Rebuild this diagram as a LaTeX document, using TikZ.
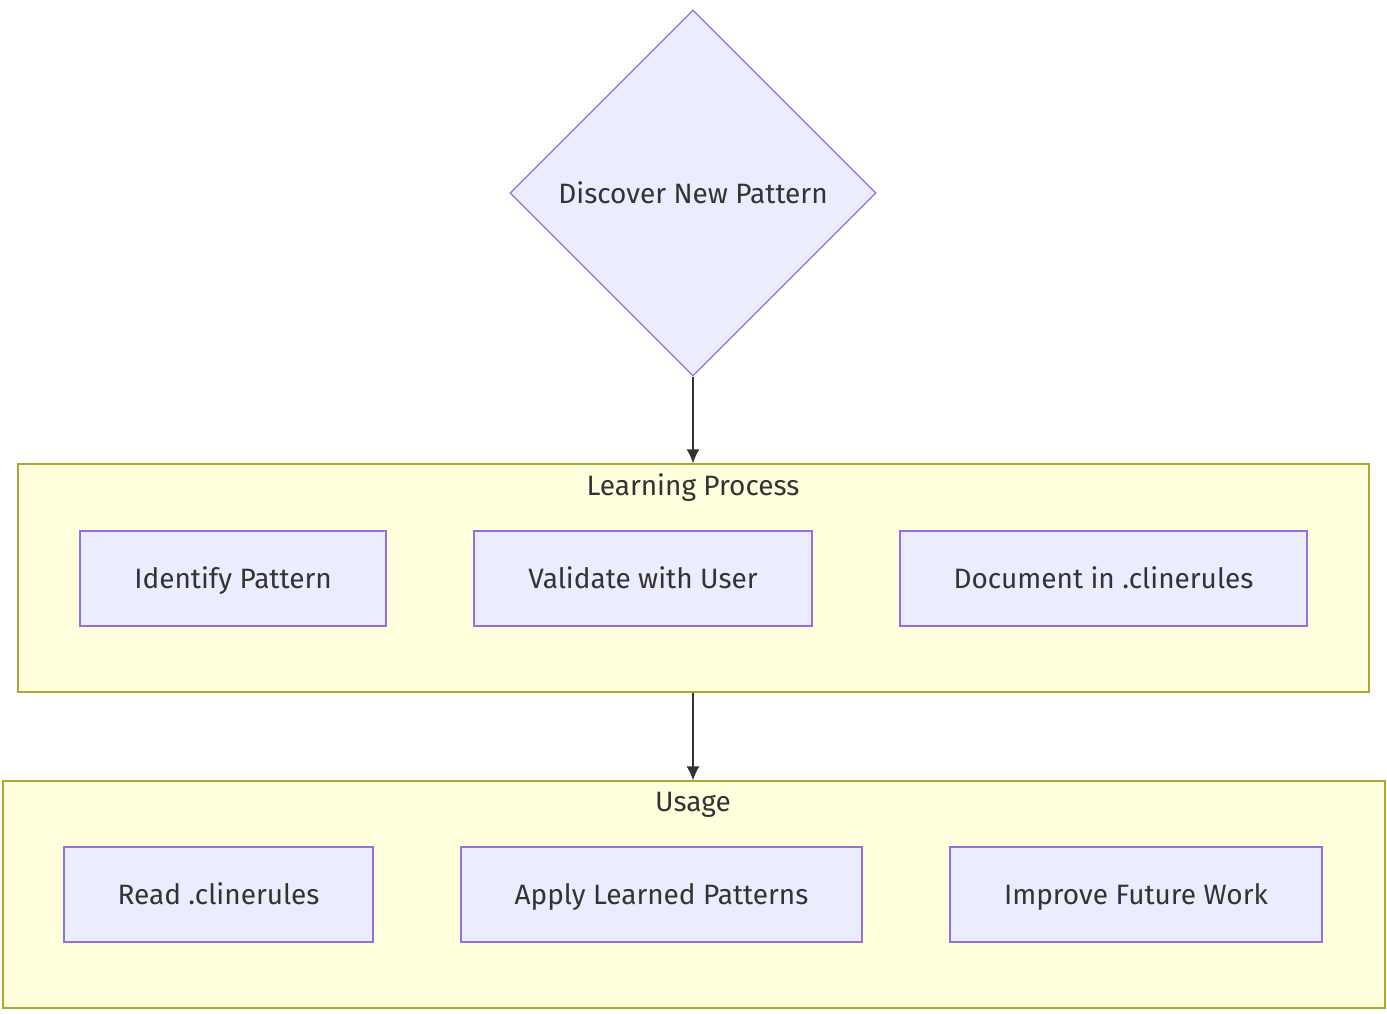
\documentclass[tikz,border=0pt]{standalone}
\usepackage{fontspec}
\setmainfont{Fira Sans}
\usetikzlibrary{arrows.meta, shapes.geometric, calc, positioning}
\definecolor{nodeFill}{HTML}{ECECFF}
\definecolor{nodeLine}{HTML}{9370DB}
\definecolor{clusterFill}{HTML}{FFFFDE}
\definecolor{clusterLine}{HTML}{AAAA33}
\definecolor{textGray}{HTML}{333333}
\tikzset{
    labelFont/.style={font=\fontsize{28}{32}\selectfont, text=textGray, text height=26pt, text depth=6pt},
    stepBox/.style={rectangle, draw=nodeLine, fill=nodeFill, line width=1.3pt, inner sep=0pt, labelFont},
    decideNode/.style={diamond, draw=nodeLine, fill=nodeFill, line width=1.3pt, inner sep=0pt, aspect=1, minimum size=366pt, labelFont},
    clusterBox/.style={rectangle, draw=clusterLine, fill=clusterFill, line width=1.3pt, inner sep=0pt},
    clusterTitle/.style={labelFont, inner sep=0pt},
    flowEdge/.style={-{Latex[length=14pt, width=13pt]}, line width=1.5pt, draw=textGray},
}

\begin{document}
\begin{tikzpicture}[x=1pt, y=-1pt]
        \useasboundingbox (0, 0) rectangle (1387, 1014);

        % clusters
        \node[clusterBox, minimum width=1351pt, minimum height=228pt] (learn) at (693.5, 578) {};
        \node[clusterTitle] (learnTitle) at (693, 485) {Learning Process};
        \node[clusterBox, minimum width=1382pt, minimum height=227pt] (usage) at (694, 894.5) {};
        \node[clusterTitle] (usageTitle) at (693, 801) {Usage};

        % decision
        \node[decideNode] (discover) at (693, 193) {Discover New Pattern};

        % learning steps
        \node[stepBox, minimum width=306pt, minimum height=95pt] (identify) at (233, 578.5) {Identify Pattern};
        \node[stepBox, minimum width=338pt, minimum height=95pt] (validate) at (643, 578.5) {Validate with User};
        \node[stepBox, minimum width=407pt, minimum height=95pt] (document) at (1103.5, 578.5) {Document in .clinerules};

        % usage steps
        \node[stepBox, minimum width=309pt, minimum height=95pt] (read) at (218.5, 894.5) {Read .clinerules};
        \node[stepBox, minimum width=401pt, minimum height=95pt] (apply) at (661.5, 894.5) {Apply Learned Patterns};
        \node[stepBox, minimum width=372pt, minimum height=95pt] (improve) at (1136, 894.5) {Improve Future Work};

        \draw[flowEdge] (discover.south) -- (discover.south |- learn.north);
        \draw[flowEdge] (discover.south |- learn.south) -- (discover.south |- usage.north);

    \end{tikzpicture}
\end{document}
